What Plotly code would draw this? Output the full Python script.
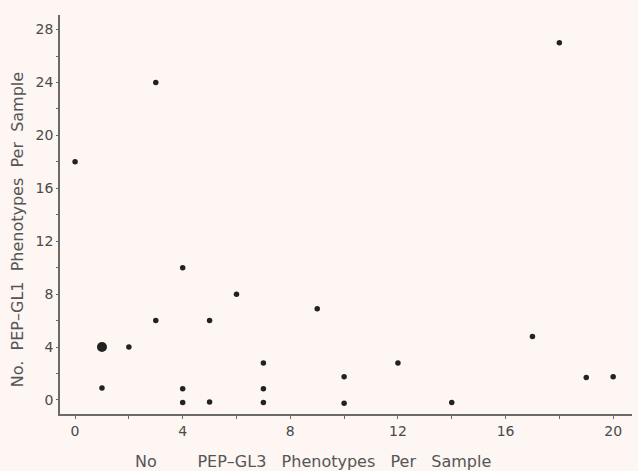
import plotly.graph_objects as go

# Data
pep_gl3 = [0, 3, 18, 4, 6, 3, 5, 9, 2, 17, 12, 7, 10, 19, 20, 1, 4, 7, 4, 5, 7, 10, 14]
pep_gl1 = [18, 24, 27, 10, 8, 6, 6, 6.9, 4, 4.8, 2.8, 2.8, 1.75, 1.7, 1.75, 0.9, 0.85, 0.85,
           -0.2, -0.15, -0.2, -0.25, -0.2]
big_x = [1]
big_y = [4]

x_tickvals = [0, 4, 8, 12, 16, 20]
y_tickvals = [0, 4, 8, 12, 16, 20, 24, 28]

NB = "\u00a0"
x_title = "No" + NB * 8 + "PEP\u2013GL3" + NB * 3 + "Phenotypes" + NB * 3 + "Per" + NB * 3 + "Sample"
y_title = "No." + NB * 2 + "PEP\u2013GL1" + NB * 2 + "Phenotypes" + NB * 2 + "Per" + NB * 2 + "Sample"

bg = "#fdf6f3"
ink = "#222222"
axis_col = "#6a6a6a"
font = "DejaVu Sans"

fig = go.Figure()
fig.add_trace(go.Scatter(x=pep_gl3, y=pep_gl1, mode="markers",
                         marker=dict(size=5.5, color=ink), showlegend=False))
fig.add_trace(go.Scatter(x=big_x, y=big_y, mode="markers",
                         marker=dict(size=10, color=ink), showlegend=False))

fig.update_layout(
    width=638, height=471,
    paper_bgcolor=bg, plot_bgcolor=bg,
    margin=dict(l=60, r=6, t=15, b=57),
    font=dict(family=font, size=14, color="#4a4a4a"),
    xaxis=dict(range=[-0.56, 20.7], tickvals=x_tickvals, showgrid=False, zeroline=False,
               automargin=False,
               showline=True, linecolor=axis_col, linewidth=1.5,
               ticks="outside", ticklen=3, tickcolor=axis_col,
               minor=dict(dtick=2, tick0=0, ticks="outside", ticklen=3, tickcolor=axis_col),
               tickfont=dict(size=14, color="#4a4a4a")),
    yaxis=dict(range=[-1.06, 29.1], tickvals=y_tickvals, showgrid=False, zeroline=False,
               automargin=False,
               showline=True, linecolor=axis_col, linewidth=1.5,
               ticks="outside", ticklen=2, tickcolor=axis_col,
               minor=dict(dtick=2, tick0=0, ticks="outside", ticklen=2, tickcolor=axis_col),
               tickfont=dict(size=14, color="#4a4a4a")),
    annotations=[
        dict(text=x_title, xref="paper", yref="paper", x=0.442, y=-0.12,
             xanchor="center", yanchor="middle", showarrow=False,
             font=dict(size=16, color="#555555")),
        dict(text=y_title, xref="paper", yref="paper", x=-0.075, y=0.461,
             xanchor="center", yanchor="middle", showarrow=False, textangle=-90,
             font=dict(size=16, color="#555555")),
    ],
)

fig.write_html("out.html", config={"displayModeBar": False},
               post_script="document.body.style.margin='0';document.body.style.background='#fdf6f3';")
